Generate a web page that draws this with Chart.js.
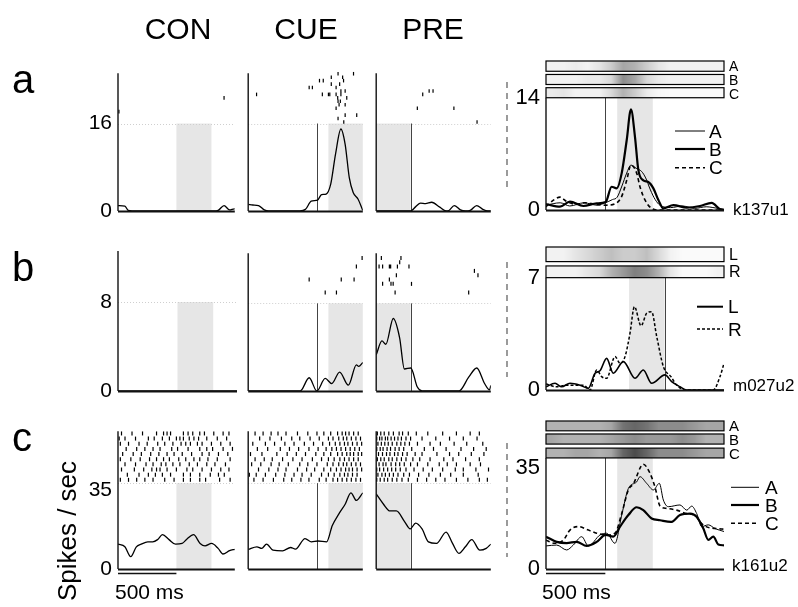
<!DOCTYPE html>
<html>
<head>
<meta charset="utf-8">
<script src="https://cdn.jsdelivr.net/npm/chart.js@4.4.1/dist/chart.umd.min.js"></script>
<style>
  body { margin: 0; background: #fff; }
  #fig { position: relative; width: 798px; height: 607px; overflow: hidden;
         font-family: "Liberation Sans", Arial, sans-serif; color: #000; }
  #fig canvas { position: absolute; }
  .lbl { position: absolute; white-space: nowrap; line-height: 1; }
</style>
</head>
<body>
<div id="fig"></div>
<script>
// ── Spike density curves, [ms, spikes/sec] ──────────────────────────────────
const aCon = [[0,1.0],[59,0.9],[87,0.1],[120,0],[820,0],[857,0.1],[908,1.0],[955,0.2],[997,0.4],[1000,0.4]];
const aCue = [[0,1.2],[40,1.1],[90,1.0],[140,0.2],[180,0],[450,0],[500,0.3],[550,1.8],[605,2.0],[640,3.0],[680,3.1],[720,4.9],[762,10.4],[809,15.0],[846,12.2],[882,6.1],[916,3.4],[958,2.2],[1000,0.1]];
const aPre = [[0,0],[300,0],[345,0.8],[387,1.45],[430,1.35],[484,1.6],[555,0.7],[610,0],[635,0.1],[681,1.0],[735,0.2],[779,0],[820,0.1],[877,1.0],[930,0.3],[975,0],[1000,0]];

const bCon = [[0,0],[1000,0]];
const bCue = [[0,0],[454,0],[532,1.21],[599,0],[672,1.15],[729,0.68],[798,1.73],[874,0.53],[944,2.39],[964,2.24],[1000,2.6]];
const bPre = [[0,3.3],[50,4.57],[84,4.27],[149,6.62],[204,4.88],[246,2.01],[302,2.1],[359,0.36],[400,0],[723,0],[807,1.26],[877,2.1],[947,0.66],[989,0.1],[1000,0.5]];

const cCon = [[0,11.1],[59,9.9],[109,5.5],[157,9.9],[199,11.1],[255,12.1],[297,12.1],[339,13.1],[381,15.3],[437,13.1],[493,11.1],[549,11.4],[591,13.4],[647,15.3],[703,11.4],[745,10.3],[801,11.4],[857,9.2],[899,6.7],[955,8.2],[1000,8.8]];
const cCue = [[0,8.75],[76,9.9],[118,9.2],[160,11.1],[216,8.4],[300,8.1],[370,9.6],[412,8.9],[496,13.6],[552,12.1],[608,12.5],[684,12.1],[734,19.4],[790,24.5],[846,28.9],[896,34.0],[944,30.6],[1000,34.0]];
const cPre = [[0,33.5],[64,28.9],[120,25.9],[176,25.9],[246,21.3],[297,17.9],[344,20.5],[400,17.9],[456,12.1],[526,11.4],[610,16.5],[666,11.4],[722,7.0],[778,9.9],[834,13.1],[904,8.4],[960,9.2],[1000,11.1]];

// ── Rasters: one array of spike times (ms) per trial ───────────────────────
const aConRaster = [[],[],[],[],[],[],[],[908],[],[],[],[8],[],[],[]];
const aCueRaster = [[784,919],[725,824],[622,655,832],[725,798],[532,560,767],[809,846],[73,647,700,712,767,809],[781,860],[784,804],[793,846],[767],[],[846,947],[784],[834]];
const aPreRaster = [[],[],[],[],[],[462,496],[406],[],[],[],[359,678],[],[],[],[880]];

const bConRaster = [];
const bCueRaster = [[994],[],[944],[],[],[532,812,924],[],[],[672,770]];
const bPreRaster = [[45,216],[205],[25,56,115,126,185,286],[857],[176,888],[115],[56,129,148,308],[],[165,807]];

const cConRaster = [
  [30,120,210,330,390,420,450,560,600,640,700,740,820,900,950],
  [10,60,150,260,310,380,440,500,530,560,610,650,690,760,850,930],
  [20,90,180,250,340,400,470,540,580,620,680,720,800,880,960],
  [70,160,230,300,360,460,510,600,700,760,810,900,980],
  [40,130,200,280,350,420,480,550,630,720,780,860,940],
  [20,110,190,270,330,390,440,520,580,650,700,770,850,960],
  [60,150,240,300,370,410,470,530,610,680,760,830,920],
  [30,140,220,290,330,360,420,500,590,640,720,800,880,950],
  [80,180,260,320,380,450,560,620,700,790,860,910],
  [20,90,160,230,300,400,480,560,620,700,750,870,960]
];
const cCueRaster = [
  [60,130,200,260,330,430,520,600,660,720,780,820,850,880,920,960],
  [100,190,290,380,450,540,620,700,740,790,830,860,900,940,980],
  [40,150,230,320,400,490,570,650,710,760,800,840,870,910,950,990],
  [80,170,280,360,440,530,610,680,730,770,810,850,890,930,970],
  [20,120,250,340,420,500,590,660,720,780,820,860,890,920,960,990],
  [60,140,210,300,390,470,560,640,700,750,800,840,880,920,960],
  [30,110,200,270,350,450,520,600,690,740,790,830,860,900,940,980],
  [90,180,260,330,430,510,580,660,720,770,810,850,880,910,950,990],
  [10,70,150,240,320,400,470,550,640,700,750,800,840,870,910,950],
  [50,130,220,310,380,460,530,620,680,740,780,820,860,900,940,980]
];
const cPreRaster = [
  [10,40,70,110,150,200,230,280,350,450,580,700,820,900],
  [5,30,50,80,100,130,160,190,220,260,300,400,520,640,760,880],
  [15,45,75,105,140,180,215,250,290,360,470,560,680,790,930],
  [5,35,60,95,125,165,200,240,310,420,500,610,740,850,960],
  [20,55,90,120,160,190,230,270,340,400,530,640,720,830,940],
  [10,40,70,110,140,180,220,260,320,380,470,590,670,780,900],
  [25,60,85,130,170,205,245,300,360,450,550,620,700,820,910],
  [5,30,65,100,135,170,210,260,330,410,490,580,690,760,870,980],
  [15,50,80,115,150,190,240,290,370,460,560,650,760,890],
  [5,35,70,100,140,180,225,280,360,440,520,600,700,800,900,970]
];

// ── Right-hand summary panels, [ms, spikes/sec] ────────────────────────────
const aRightA = [[0,0.6],[120,0.9],[200,0.5],[320,0.9],[430,0.6],[500,0.9],[560,1.3],[600,1.6],[640,3.0],[680,4.6],[716,5.6],[760,5.2],[806,4.8],[840,4.0],[880,2.5],[920,1.3],[960,0.6],[1050,0.3],[1150,0.5],[1250,0.2],[1350,0.4],[1450,0.2],[1500,0.1]];
const aRightB = [[0,0.75],[118,0.42],[202,1.04],[315,0.5],[427,0.83],[503,1.0],[553,2.9],[596,2.7],[638,4.6],[680,8.7],[716,12.55],[750,9.1],[778,5.0],[820,3.7],[862,3.5],[905,2.7],[947,1.25],[989,0.2],[1073,0.6],[1186,0.3],[1298,0.5],[1396,0.9],[1466,0.1],[1500,0]];
const aRightC = [[0,0.4],[60,1.2],[118,1.6],[170,1.1],[250,0.7],[330,0.9],[420,0.7],[500,0.6],[596,0.9],[638,1.7],[680,3.7],[716,5.6],[764,4.6],[792,2.9],[834,1.25],[890,0.2],[950,0],[1500,0]];

const bRightL = [[0,0.2],[76,0.42],[132,0.2],[202,0.42],[287,0.3],[357,0.1],[413,1.04],[455,1.2],[511,1.97],[567,1.04],[652,1.77],[750,0.73],[820,1.25],[890,0.42],[1003,0.94],[1059,0.52],[1129,0.2],[1186,0],[1500,0]];
const bRightR = [[0,0.37],[90,0.2],[174,0.3],[315,0.3],[371,0],[427,1.25],[469,0.83],[511,0.73],[582,2.08],[624,1.66],[666,2.08],[708,3.54],[745,5.19],[801,4.0],[848,4.78],[890,4.88],[933,3.33],[989,1.46],[1053,0.83],[1101,0.31],[1171,0],[1410,0],[1466,0.83],[1500,1.66]];

const cRightA = [[0,8.0],[90,8.3],[174,6.6],[230,8.3],[301,11.2],[357,8.0],[455,11.8],[511,12.4],[581,8.9],[638,18.7],[694,27.9],[764,30.2],[792,32.0],[848,29.7],[905,27.4],[955,29.7],[989,23.9],[1031,21.6],[1129,22.2],[1186,20.4],[1228,21.8],[1270,19.2],[1312,14.7],[1368,15.3],[1425,14.0],[1500,13.0]];
const cRightB = [[0,11.2],[90,9.4],[174,9.0],[258,9.4],[343,8.0],[427,9.4],[503,11.8],[567,11.2],[624,14.7],[694,18.7],[764,21.4],[820,20.4],[890,17.5],[961,16.9],[1053,16.3],[1129,18.7],[1214,19.2],[1270,18.1],[1326,14.0],[1368,10.1],[1410,11.2],[1452,8.5],[1500,8.2]];
const cRightC = [[0,10.0],[76,8.9],[146,10.0],[202,13.5],[272,14.7],[357,13.5],[427,12.4],[511,11.8],[581,12.4],[638,19.2],[694,27.4],[736,29.5],[820,36.3],[876,33.2],[919,28.3],[961,21.8],[1017,21.0],[1101,20.4],[1186,19.2],[1256,18.6],[1298,16.3],[1354,14.6],[1438,14.0],[1500,13.8]];

// raster density per 100 ms bin (stacked rasters above the summary panels)
const aBoxA = [0.05,0.05,0.08,0.05,0.1,0.2,0.35,0.3,0.2,0.1,0.05,0.05,0.05,0.05,0.05];
const aBoxB = [0.05,0.05,0.05,0.08,0.08,0.15,0.45,0.35,0.15,0.08,0.05,0.05,0.05,0.05,0.05];
const aBoxC = [0.08,0.1,0.05,0.05,0.05,0.15,0.3,0.2,0.08,0.03,0.02,0.02,0.02,0.02,0.02];
const bBoxL = [0.05,0.05,0.1,0.15,0.2,0.25,0.2,0.2,0.25,0.15,0.05,0.02,0.02,0.02,0.02];
const bBoxR = [0.05,0.05,0.05,0.1,0.15,0.3,0.4,0.5,0.45,0.3,0.1,0.02,0.02,0.02,0.05];
const cBoxA = [0.3,0.3,0.3,0.3,0.3,0.35,0.55,0.6,0.55,0.45,0.45,0.45,0.4,0.35,0.35];
const cBoxB = [0.35,0.3,0.3,0.3,0.3,0.35,0.4,0.45,0.4,0.4,0.4,0.45,0.4,0.3,0.3];
const cBoxC = [0.3,0.3,0.35,0.35,0.3,0.35,0.6,0.7,0.6,0.45,0.45,0.45,0.4,0.35,0.35];

// tick labels
const aTicks = [0, 16], bTicks = [0, 8], cTicks = [0, 35];
const aRightTicks = [0, 14], bRightTicks = [0, 7], cRightTicks = [0, 35];

// ── Layout ──────────────────────────────────────────────────────────────────
const FONT = '"Liberation Sans", Arial, sans-serif';
Chart.defaults.font.family = FONT;
const fig = document.getElementById('fig');
const PAD = { left: 3, top: 3, right: 3, bottom: 14 };
const SMALL_X = [118, 246, 374], SMALL_W = 119;
const RIGHT_X = 546, RIGHT_W = 178, YW = 44;

const ROWS = [
  { top: 71,  bottom: 211, ymax: 25.2,  ticks: aTicks, base: 16,   trial0: 25.1, step: 0.63,  tick: 1.8,
    curves: [aCon, aCue, aPre], rasters: [aConRaster, aCueRaster, aPreRaster] },
  { top: 251, bottom: 391, ymax: 12.58, ticks: bTicks, base: 8,    trial0: 12.15, step: 0.395, tick: 2,
    curves: [bCon, bCue, bPre], rasters: [bConRaster, bCueRaster, bPreRaster] },
  { top: 429, bottom: 569, ymax: 61.5,  ticks: cTicks, base: 38.3, trial0: 60.5, step: 2.3,   tick: 2,
    curves: [cCon, cCue, cPre], rasters: [cConRaster, cCueRaster, cPreRaster], bar: true }
];
const COLS = [ { shade: [500, 800], vline: null }, { shade: [700, 1000], vline: 600 }, { shade: [0, 300], vline: 300 } ];

const RROWS = [
  { top: 61, bottom: 210, ymax: 18.58, ticks: aRightTicks, axisTop: 14, shade: [600, 900], vline: 500,
    boxes: [{ lo: 17.3, hi: 18.58, dens: aBoxA }, { lo: 15.65, hi: 16.9, dens: aBoxB }, { lo: 14, hi: 15.25, dens: aBoxC }],
    lines: [{ d: aRightA, w: 1 }, { d: aRightB, w: 2.2 }, { d: aRightC, w: 1.6, dash: [4, 3] }] },
  { top: 247, bottom: 390, ymax: 8.91, ticks: bRightTicks, axisTop: 7, shade: [700, 1000], vline: 1000,
    boxes: [{ lo: 8.0, hi: 8.91, dens: bBoxL }, { lo: 7.0, hi: 7.73, dens: bBoxR }],
    lines: [{ d: bRightL, w: 1.6 }, { d: bRightR, w: 1.5, dash: [3, 2] }] },
  { top: 421, bottom: 569, ymax: 51.3, ticks: cRightTicks, axisTop: 38.5, shade: [600, 900], vline: 500,
    boxes: [{ lo: 47.9, hi: 51.3, dens: cBoxA }, { lo: 43.3, hi: 46.8, dens: cBoxB }, { lo: 38.5, hi: 41.9, dens: cBoxC }],
    lines: [{ d: cRightA, w: 1 }, { d: cRightB, w: 2.2 }, { d: cRightC, w: 1.6, dash: [4, 3] }], bar: true }
];

// ── Helpers ─────────────────────────────────────────────────────────────────
function toXY(arr) { return arr.map(p => ({ x: p[0], y: p[1] })); }
function rasterXY(trials, y0, step) {
  const pts = [];
  trials.forEach((t, i) => t.forEach(ms => pts.push({ x: ms, y: y0 - i * step })));
  return pts;
}

// shading, event line, stacked rasters, axis lines, scale bar
function decor(o) {
  return {
    id: 'decor',
    beforeDatasetsDraw(chart) {
      const { ctx, chartArea: a, scales: { x, y } } = chart;
      ctx.save();
      const y0 = y.getPixelForValue(0);
      if (o.shade) {
        const x0 = x.getPixelForValue(o.shade[0]), x1 = x.getPixelForValue(o.shade[1]);
        const yt = y.getPixelForValue(o.shadeTop);
        ctx.fillStyle = '#e6e6e6';
        ctx.fillRect(x0, yt, x1 - x0, y0 - yt);
      }
      if (o.dotted != null) {
        const yy = Math.round(y.getPixelForValue(o.dotted)) + 0.5;
        ctx.strokeStyle = '#cfcfcf'; ctx.lineWidth = 1; ctx.setLineDash([1, 2]);
        ctx.beginPath(); ctx.moveTo(a.left, yy); ctx.lineTo(a.right, yy); ctx.stroke();
        ctx.setLineDash([]);
      }
      if (o.vline != null) {
        const xx = Math.round(x.getPixelForValue(o.vline)) + 0.5;
        ctx.strokeStyle = '#444'; ctx.lineWidth = 1;
        ctx.beginPath(); ctx.moveTo(xx, y0); ctx.lineTo(xx, y.getPixelForValue(o.shadeTop)); ctx.stroke();
      }
      (o.boxes || []).forEach(b => {
        const yt = y.getPixelForValue(b.hi), yb = y.getPixelForValue(b.lo);
        const g = ctx.createLinearGradient(a.left, 0, a.right, 0);
        b.dens.forEach((d, i) => g.addColorStop((i + 0.5) / b.dens.length, 'rgba(0,0,0,' + d + ')'));
        ctx.fillStyle = g;
        ctx.fillRect(a.left, yt, a.right - a.left, yb - yt);
        ctx.strokeStyle = '#000'; ctx.lineWidth = 1.2;
        ctx.strokeRect(a.left, yt, a.right - a.left, yb - yt);
      });
      ctx.restore();
    },
    afterDatasetsDraw(chart) {
      const { ctx, chartArea: a, scales: { x, y } } = chart;
      const y0 = y.getPixelForValue(0);
      ctx.save();
      ctx.strokeStyle = '#111';
      ctx.lineWidth = 1.4;
      ctx.beginPath(); ctx.moveTo(a.left, y0); ctx.lineTo(a.left, y.getPixelForValue(o.axisTop)); ctx.stroke();
      ctx.lineWidth = 2;
      ctx.beginPath(); ctx.moveTo(a.left, y0 + 0.5); ctx.lineTo(a.right, y0 + 0.5); ctx.stroke();
      if (o.bar) {
        ctx.lineWidth = 1.5;
        ctx.beginPath(); ctx.moveTo(x.getPixelForValue(0), y0 + 4.5); ctx.lineTo(x.getPixelForValue(500), y0 + 4.5); ctx.stroke();
      }
      ctx.restore();
    }
  };
}

function makeChart(left, top, w, h, cfg) {
  const c = document.createElement('canvas');
  c.width = w; c.height = h;
  c.style.left = left + 'px'; c.style.top = top + 'px';
  fig.appendChild(c);
  return new Chart(c, cfg);
}

function yScale(ymax, ticks, show, size) {
  return {
    min: 0, max: ymax, display: show, position: 'left',
    grid: { display: false, drawTicks: false }, border: { display: false },
    ticks: { padding: 6, color: '#000', font: { size: size } },
    afterBuildTicks: s => { s.ticks = ticks.map(v => ({ value: v })); },
    afterFit: s => { s.width = show ? YW : 0; s.paddingTop = 0; s.paddingBottom = 0; }
  };
}

function baseOptions(xmax, yOpts) {
  return {
    responsive: false, animation: false, events: [],
    layout: { padding: PAD },
    plugins: { legend: { display: false }, tooltip: { enabled: false } },
    elements: { point: { radius: 0 } },
    scales: { x: { type: 'linear', min: 0, max: xmax, display: false }, y: yOpts }
  };
}

// ── Small CON / CUE / PRE panels ────────────────────────────────────────────
ROWS.forEach((R, r) => {
  COLS.forEach((C, c) => {
    const yw = c === 0 ? YW : 0;
    const h = R.bottom - R.top;
    makeChart(SMALL_X[c] - yw - PAD.left, R.top - PAD.top, PAD.left + yw + SMALL_W + PAD.right, PAD.top + h + PAD.bottom, {
      type: 'line',
      data: { datasets: [
        { data: toXY(R.curves[c]), borderColor: '#000', borderWidth: 1.3, cubicInterpolationMode: 'monotone', pointRadius: 0 },
        { data: rasterXY(R.rasters[c], R.trial0, R.step), showLine: false, pointStyle: 'line', rotation: 90,
          pointRadius: R.tick, borderColor: '#000', pointBorderWidth: 1.2, clip: false }
      ] },
      options: baseOptions(1000, yScale(R.ymax, R.ticks, c === 0, 21)),
      plugins: [decor({ shade: C.shade, shadeTop: R.base, vline: C.vline, dotted: R.base, axisTop: R.ymax, bar: R.bar && c === 0 })]
    });
  });
});

// ── Right-hand summary panels ───────────────────────────────────────────────
RROWS.forEach(R => {
  const h = R.bottom - R.top;
  makeChart(RIGHT_X - YW - PAD.left, R.top - PAD.top, PAD.left + YW + RIGHT_W + PAD.right, PAD.top + h + PAD.bottom, {
    type: 'line',
    data: { datasets: R.lines.map(l => ({
      data: toXY(l.d), borderColor: '#000', borderWidth: l.w, borderDash: l.dash || [],
      cubicInterpolationMode: 'monotone', pointRadius: 0
    })) },
    options: baseOptions(1500, yScale(R.ymax, R.ticks, true, 22)),
    plugins: [decor({ shade: R.shade, shadeTop: R.axisTop, vline: R.vline, boxes: R.boxes, axisTop: R.axisTop, bar: R.bar })]
  });
});

// ── Overlay: dashed separators and legend samples ──────────────────────────
const NS = 'http://www.w3.org/2000/svg';
const svg = document.createElementNS(NS, 'svg');
svg.setAttribute('width', 798); svg.setAttribute('height', 607);
svg.style.position = 'absolute'; svg.style.left = '0'; svg.style.top = '0';
fig.appendChild(svg);
function seg(x1, y1, x2, y2, w, dash, color) {
  const l = document.createElementNS(NS, 'line');
  l.setAttribute('x1', x1); l.setAttribute('y1', y1); l.setAttribute('x2', x2); l.setAttribute('y2', y2);
  l.setAttribute('stroke', color || '#000'); l.setAttribute('stroke-width', w);
  if (dash) l.setAttribute('stroke-dasharray', dash);
  svg.appendChild(l);
}
seg(507, 82, 507, 188, 1.3, '6 5', '#666');
seg(507, 262, 507, 377, 1.3, '6 5', '#666');
seg(507, 443, 507, 557, 1.3, '6 5', '#666');
seg(675, 131, 705, 131, 1); seg(675, 149, 705, 149, 2.2); seg(675, 167.7, 705, 167.7, 1.6, '4 3');
seg(697, 306.7, 723, 306.7, 2); seg(697, 329, 723, 329, 1.5, '3 2');
seg(731, 487.3, 759, 487.3, 1); seg(731, 505, 759, 505, 2.2); seg(731, 523.3, 759, 523.3, 1.6, '4 3');

// ── Text ───────────────────────────────────────────────────────────────────
function label(text, x, base, fs, align) {
  const d = document.createElement('div');
  d.className = 'lbl'; d.textContent = text;
  d.style.fontSize = fs + 'px';
  d.style.top = (base - 0.8465 * fs) + 'px';
  d.style.left = x + 'px';
  if (align === 'center') d.style.transform = 'translateX(-50%)';
  fig.appendChild(d);
  return d;
}
label('CON', 178, 39, 30, 'center');
label('CUE', 306, 39, 30, 'center');
label('PRE', 433, 39, 30, 'center');
label('a', 12, 92.7, 40);
label('b', 12, 280.7, 40);
label('c', 12, 450.7, 40);
label('500 ms', 115, 598.5, 21);
label('500 ms', 542, 598.5, 21);
label('k137u1', 733, 215, 17);
label('m027u2', 733, 391, 17);
label('k161u2', 732, 571, 17);
[['A', 131], ['B', 149], ['C', 167.7]].forEach(t => label(t[0], 709, t[1] + 6.8, 19));
[['L', 306.7], ['R', 329]].forEach(t => label(t[0], 728, t[1] + 6.8, 19));
[['A', 487.3], ['B', 505], ['C', 523.3]].forEach(t => label(t[0], 765, t[1] + 6.8, 19));
[['A', 66.3], ['B', 80], ['C', 93.5]].forEach(t => label(t[0], 729, t[1] + 5, 14));
[['L', 255], ['R', 272]].forEach(t => label(t[0], 729, t[1] + 5.5, 16));
[['A', 425.7], ['B', 439], ['C', 453]].forEach(t => label(t[0], 729, t[1] + 5.2, 15));

const ylab = document.createElement('div');
ylab.className = 'lbl'; ylab.textContent = 'Spikes / sec';
ylab.style.fontSize = '26px'; ylab.style.left = '67px'; ylab.style.top = '531px';
ylab.style.transform = 'translate(-50%, -50%) rotate(-90deg)';
fig.appendChild(ylab);
</script>
</body>
</html>
